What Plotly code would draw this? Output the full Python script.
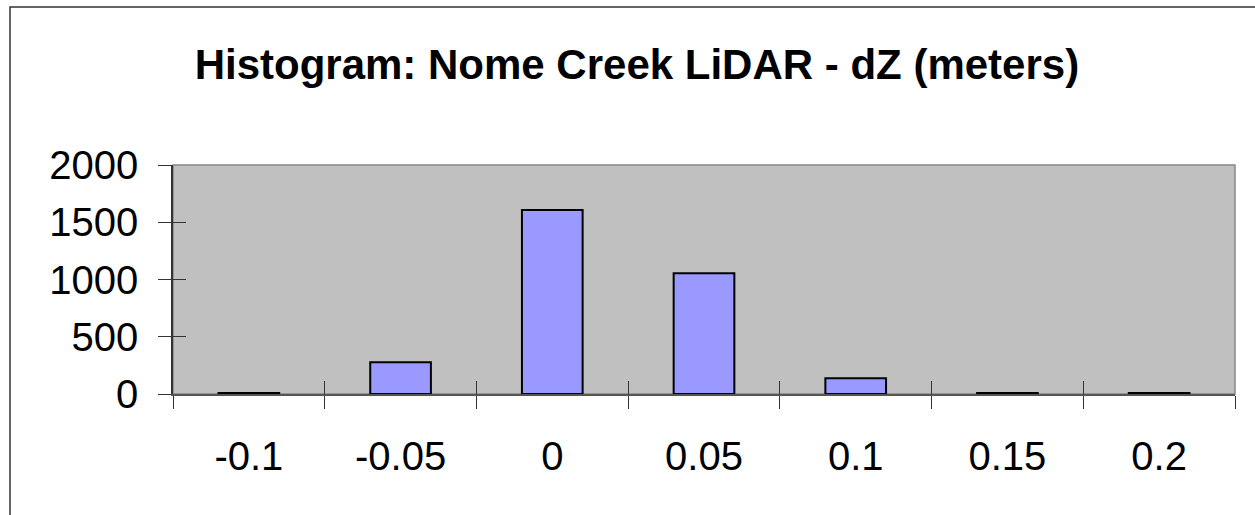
import plotly.graph_objects as go

categories = ["-0.1", "-0.05", "0", "0.05", "0.1", "0.15", "0.2"]
counts = [8, 277, 1608, 1054, 137, 8, 8]
y_ticks = [0, 500, 1000, 1500, 2000]
title_text = "Histogram: Nome Creek LiDAR - dZ (meters)"

FONT = "Liberation Sans, Arial, Helvetica, sans-serif"

fig = go.Figure()
fig.add_trace(go.Bar(
    x=categories, y=counts,
    marker=dict(color="#9999FF", line=dict(color="#000000", width=2)),
    hoverinfo="x+y",
))
# invisible companion trace for the inner half of crossing ticks
fig.add_trace(go.Scatter(
    x=categories, y=counts, xaxis="x2", yaxis="y2",
    mode="markers", marker=dict(opacity=0), hoverinfo="skip", showlegend=False,
))

axis_font = dict(family=FONT, size=40, color="#000000")

fig.update_layout(
    width=1255, height=515,
    margin=dict(l=173, r=20, t=165, b=121),
    paper_bgcolor="#FFFFFF",
    plot_bgcolor="#C0C0C0",
    bargap=0.6,
    showlegend=False,
    title=dict(text="<b>" + title_text + "</b>", x=0.5075, xref="container",
               xanchor="center", y=1 - 64 / 515, yref="container", yanchor="middle",
               font=dict(family=FONT, size=42, color="#000000")),
    xaxis=dict(type="category", tickson="boundaries", ticks="outside", ticklen=13,
               tickwidth=1, tickcolor="#333333", showgrid=False, zeroline=False,
               showline=True, linecolor="#555555", linewidth=1.5,
               tickfont=axis_font, ticklabelstandoff=26),
    yaxis=dict(range=[0, 2000], tickvals=y_ticks, ticks="outside", ticklen=13,
               tickwidth=1, tickcolor="#333333", showgrid=False, zeroline=False,
               showline=True, linecolor="#333333", linewidth=1.5,
               tickfont=axis_font, ticklabelstandoff=12),
    xaxis2=dict(type="category", overlaying="x", matches="x", tickson="boundaries",
                ticks="inside", ticklen=13, tickwidth=1, tickcolor="#333333",
                showticklabels=False, showgrid=False, zeroline=False, showline=False,
                side="bottom", anchor="y2"),
    yaxis2=dict(overlaying="y", matches="y", range=[0, 2000], tickvals=y_ticks,
                ticks="inside", ticklen=13, tickwidth=1, tickcolor="#333333",
                showticklabels=False, showgrid=False, zeroline=False, showline=False,
                side="left", anchor="x2"),
    shapes=[
        dict(type="rect", xref="paper", yref="paper", x0=0, x1=1, y0=0, y1=1,
             line=dict(color="#888888", width=1.5), layer="below"),
        dict(type="rect", xref="paper", yref="paper",
             x0=(10 - 173) / 1062, x1=1.1, y0=-0.7, y1=(394 - 7) / 229,
             line=dict(color="#333333", width=1.5), fillcolor="rgba(0,0,0,0)"),
    ],
)

fig.write_html("out.html", config={"displayModeBar": False},
               post_script="document.body.style.margin='0';document.body.style.overflow='hidden';")
